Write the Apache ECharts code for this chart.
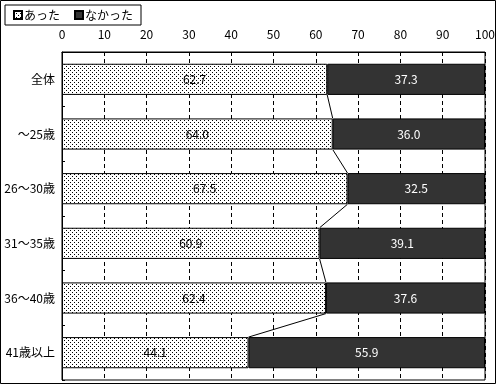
<!DOCTYPE html>
<html><head><meta charset="utf-8">
<script src="https://cdn.jsdelivr.net/npm/echarts@6/dist/echarts.min.js"></script>
<style>html,body{margin:0;padding:0;background:#fff}#c{width:500px;height:385px}</style>
</head><body><div id="c"></div>
<script>
var categories = ['全体', '～25歳', '26～30歳', '31～35歳', '36～40歳', '41歳以上'];
var seriesNames = ['あった', 'なかった'];
var atta = [62.7, 64.0, 67.5, 60.9, 62.4, 44.1];
var nakatta = [37.3, 36.0, 32.5, 39.1, 37.6, 55.9];
var xTicks = [0, 10, 20, 30, 40, 50, 60, 70, 80, 90, 100];

var FONT = '"MS PGothic","Noto Sans CJK JP",sans-serif';
var BAR_RATIO = 0.57;

var pc = document.createElement('canvas');
pc.width = 4; pc.height = 4;
var g = pc.getContext('2d');
g.fillStyle = '#fff'; g.fillRect(0, 0, 4, 4);
g.fillStyle = '#000'; g.fillRect(0, 0, 1, 1); g.fillRect(2, 2, 1, 1);
var dotPattern = { image: pc, repeat: 'repeat' };

var connectData = [];
for (var i = 0; i < atta.length - 1; i++) connectData.push([atta[i], i, atta[i + 1]]);

var chart = echarts.init(document.getElementById('c'), null, { renderer: 'canvas' });
chart.setOption({
  animation: false,
  textStyle: { fontFamily: FONT },
  graphic: [{ type: 'rect', shape: { x: 0.5, y: 0.5, width: 495, height: 383 }, style: { fill: 'none', stroke: '#000', lineWidth: 1 }, z: 100 }],
  legend: {
    left: 5, top: 5, orient: 'horizontal',
    data: seriesNames,
    icon: 'rect',
    borderColor: '#000', borderWidth: 1, borderRadius: 0,
    padding: [4, 8, 4, 8],
    itemWidth: 8, itemHeight: 8, itemGap: 14,
    textStyle: { fontSize: 12, color: '#000', fontFamily: FONT, padding: [0, 0, 0, -3] }
  },
  grid: { left: 62, right: 15, top: 52, bottom: 5, show: true, borderColor: '#000', borderWidth: 1, containLabel: false },
  xAxis: {
    type: 'value', position: 'top', min: 0, max: 100, interval: 10,
    axisLine: { show: true, lineStyle: { color: '#000', width: 1 } },
    axisTick: { show: false },
    axisLabel: { color: '#000', fontSize: 12, margin: 12, fontFamily: FONT,
      formatter: function (v) { return xTicks.indexOf(v) >= 0 ? String(v) : ''; } },
    splitLine: { show: true, lineStyle: { color: '#000', type: [4, 3], width: 1 } }
  },
  yAxis: {
    type: 'category', inverse: true, data: categories,
    axisLine: { show: true, lineStyle: { color: '#000', width: 1 } },
    axisTick: { show: true, inside: true, length: 3, lineStyle: { color: '#000' } },
    axisLabel: { color: '#000', fontSize: 12, margin: 7, fontFamily: FONT },
    splitLine: { show: false }
  },
  series: [
    {
      name: seriesNames[0], type: 'bar', stack: 's', data: atta,
      barCategoryGap: '43%',
      itemStyle: { color: dotPattern, borderColor: '#000', borderWidth: 1 },
      label: { show: true, position: 'inside', color: '#000', fontSize: 12, fontFamily: FONT,
        formatter: function (p) { return p.value.toFixed(1); } },
      z: 3
    },
    {
      name: seriesNames[1], type: 'bar', stack: 's', data: nakatta,
      itemStyle: { color: '#333333', borderColor: '#000', borderWidth: 1 },
      label: { show: true, position: 'inside', color: '#fff', fontSize: 12, fontFamily: FONT,
        formatter: function (p) { return p.value.toFixed(1); } },
      z: 3
    },
    {
      name: 'connect', type: 'custom', data: connectData,
      encode: { x: 0, y: 1 },
      silent: true, z: 4,
      renderItem: function (params, api) {
        var i = api.value(1);
        var p1 = api.coord([api.value(0), i]);
        var p2 = api.coord([api.value(2), i + 1]);
        var band = api.size([0, 1])[1];
        var half = band * BAR_RATIO / 2;
        return { type: 'line', shape: { x1: p1[0], y1: p1[1] + half, x2: p2[0], y2: p2[1] - half },
          style: { stroke: '#000', lineWidth: 1 } };
      }
    }
  ]
});
</script></body></html>
